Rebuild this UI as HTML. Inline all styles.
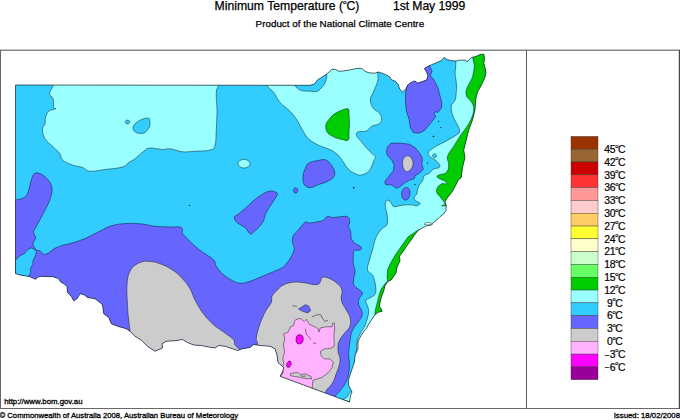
<!DOCTYPE html>
<html><head><meta charset="utf-8"><title>Minimum Temperature</title>
<style>
html,body{margin:0;padding:0;background:#fff;}
body{width:680px;height:420px;position:relative;overflow:hidden;font-family:"Liberation Sans",sans-serif;color:#000;}
.t{position:absolute;white-space:nowrap;}
.lb{position:absolute;left:594.2px;width:41px;text-align:center;font-size:10.4px;line-height:14px;white-space:nowrap;-webkit-text-stroke:0.2px #000;letter-spacing:-0.3px;}
.o{font-size:5.6px;position:relative;top:-5.4px;}
.b{-webkit-text-stroke:0.25px #000;}
.b2{-webkit-text-stroke:0.3px #000;}
</style></head><body>
<svg width="680" height="420" viewBox="0 0 680 420" style="position:absolute;left:0;top:0"><defs><clipPath id="c"><path d="M15.5,85 L310,85.3 L314.4,84.1 L317.4,80.1 L321.8,77.2 L326.2,74.3 L329.1,72 L332,69.1 L335.7,69.4 L338.7,71.3 L343.8,70.9 L349.7,69.9 L357,68.4 L361.5,68.4 L365.1,71.3 L368.8,72.8 L374.7,73.2 L378.4,72 L382,73.2 L386.5,75 L390.1,77.2 L390.9,79.4 L396,81.6 L398.2,84.6 L399.7,89 L402.6,91.9 L405.9,89 L407.4,85.3 L411,82.4 L414.7,80.9 L417.6,83.1 L422.1,81.6 L426.5,80.1 L427.9,75.7 L426.5,72.1 L424.3,68.4 L427.9,66.2 L431.6,64.7 L436.8,62.5 L441.2,60.6 L444.1,57.4 L447.1,59.6 L451.5,60.6 L455.9,61 L460.3,60 L464.7,60.3 L467.6,61.5 L469.9,58.8 L472,57.4 L476.5,56.2 L480.1,54.4 L483.8,54.1 L484.6,58.8 L483.8,63.2 L485,67.6 L486,72.1 L485,77.2 L483.1,81.6 L480.9,86 L477.9,91.2 L476.5,95.6 L475.7,100 L475,110 L472.5,120 L468.75,130 L466.25,140 L463.75,150 L465,157.5 L462.5,167.5 L461.25,177.5 L458.3,180 L455,186.7 L451.7,192.5 L447.5,197.5 L445,201.7 L446.3,205.8 L445.8,210.8 L443.3,214.2 L440,216.7 L436.7,220 L433.3,222.5 L431.7,225 L426.7,225.8 L421.7,228.3 L418.6,230 L415.8,233.3 L413.8,236 L410.8,240.5 L407.9,244.3 L403.1,251.4 L399.5,256.2 L400,261 L397.1,266.9 L396,272.9 L391.2,280 L387.9,281.5 L385,285.7 L383.6,291.4 L381.4,297.1 L380,302.9 L379.3,306.4 L381.4,309.3 L382.1,311.4 L378.6,312.1 L376.4,313.6 L374.3,315.7 L371.4,320 L368.6,324.3 L366.4,328.6 L364.8,330 L361,335.7 L358,341.4 L358,349 L355.2,354.8 L354.3,362.4 L352.4,368 L350.5,373.8 L348.6,379.5 L348.6,385.2 L350.5,389 L352,392 L350.5,395.7 L349.5,402 L280,376.25 L282.5,372 L283.75,367.5 L278,362.5 L277,355 L275,348.75 L270,346.25 L260,345.5 L253.75,344.5 L250,347.5 L242.5,348.75 L237.5,350.5 L232.5,348.75 L225,346.25 L218.75,345.5 L215,348 L208.75,347 L201.25,345.5 L193.75,345 L187.5,342.5 L182.5,339.5 L175,340.75 L166.25,341.25 L162,343.75 L162.5,348 L158.75,349.5 L155,351.25 L147.5,346.25 L141.25,340 L135,336.25 L130,331.25 L126.25,328.75 L117.5,326.25 L111.25,323.75 L108.75,317.5 L103.75,313.75 L102.5,305 L100,302.5 L95,298.75 L87.5,297.5 L83.75,294.5 L80,293.75 L77,298.75 L73.75,300.75 L71.25,296.25 L67.5,292.5 L67,286.25 L63.6,283.6 L60.7,282.1 L58.6,278.6 L52.9,276.7 L40.7,276.4 L37.9,277.1 L35.7,279.3 L32.9,278.1 L29.3,276.4 L24.3,275.7 L20,275 L15.5,273.6Z"/></clipPath></defs><path d="M15.5,85 L310,85.3 L314.4,84.1 L317.4,80.1 L321.8,77.2 L326.2,74.3 L329.1,72 L332,69.1 L335.7,69.4 L338.7,71.3 L343.8,70.9 L349.7,69.9 L357,68.4 L361.5,68.4 L365.1,71.3 L368.8,72.8 L374.7,73.2 L378.4,72 L382,73.2 L386.5,75 L390.1,77.2 L390.9,79.4 L396,81.6 L398.2,84.6 L399.7,89 L402.6,91.9 L405.9,89 L407.4,85.3 L411,82.4 L414.7,80.9 L417.6,83.1 L422.1,81.6 L426.5,80.1 L427.9,75.7 L426.5,72.1 L424.3,68.4 L427.9,66.2 L431.6,64.7 L436.8,62.5 L441.2,60.6 L444.1,57.4 L447.1,59.6 L451.5,60.6 L455.9,61 L460.3,60 L464.7,60.3 L467.6,61.5 L469.9,58.8 L472,57.4 L476.5,56.2 L480.1,54.4 L483.8,54.1 L484.6,58.8 L483.8,63.2 L485,67.6 L486,72.1 L485,77.2 L483.1,81.6 L480.9,86 L477.9,91.2 L476.5,95.6 L475.7,100 L475,110 L472.5,120 L468.75,130 L466.25,140 L463.75,150 L465,157.5 L462.5,167.5 L461.25,177.5 L458.3,180 L455,186.7 L451.7,192.5 L447.5,197.5 L445,201.7 L446.3,205.8 L445.8,210.8 L443.3,214.2 L440,216.7 L436.7,220 L433.3,222.5 L431.7,225 L426.7,225.8 L421.7,228.3 L418.6,230 L415.8,233.3 L413.8,236 L410.8,240.5 L407.9,244.3 L403.1,251.4 L399.5,256.2 L400,261 L397.1,266.9 L396,272.9 L391.2,280 L387.9,281.5 L385,285.7 L383.6,291.4 L381.4,297.1 L380,302.9 L379.3,306.4 L381.4,309.3 L382.1,311.4 L378.6,312.1 L376.4,313.6 L374.3,315.7 L371.4,320 L368.6,324.3 L366.4,328.6 L364.8,330 L361,335.7 L358,341.4 L358,349 L355.2,354.8 L354.3,362.4 L352.4,368 L350.5,373.8 L348.6,379.5 L348.6,385.2 L350.5,389 L352,392 L350.5,395.7 L349.5,402 L280,376.25 L282.5,372 L283.75,367.5 L278,362.5 L277,355 L275,348.75 L270,346.25 L260,345.5 L253.75,344.5 L250,347.5 L242.5,348.75 L237.5,350.5 L232.5,348.75 L225,346.25 L218.75,345.5 L215,348 L208.75,347 L201.25,345.5 L193.75,345 L187.5,342.5 L182.5,339.5 L175,340.75 L166.25,341.25 L162,343.75 L162.5,348 L158.75,349.5 L155,351.25 L147.5,346.25 L141.25,340 L135,336.25 L130,331.25 L126.25,328.75 L117.5,326.25 L111.25,323.75 L108.75,317.5 L103.75,313.75 L102.5,305 L100,302.5 L95,298.75 L87.5,297.5 L83.75,294.5 L80,293.75 L77,298.75 L73.75,300.75 L71.25,296.25 L67.5,292.5 L67,286.25 L63.6,283.6 L60.7,282.1 L58.6,278.6 L52.9,276.7 L40.7,276.4 L37.9,277.1 L35.7,279.3 L32.9,278.1 L29.3,276.4 L24.3,275.7 L20,275 L15.5,273.6Z" fill="#33ccff"/><g clip-path="url(#c)" stroke="#000" stroke-opacity="0.8" stroke-width="0.55" stroke-linejoin="round"><path d="M53.2,80 C20.09,81.00 53.94,82.25 53.2,85 C52.46,87.75 49.54,91.00 49.5,93.75 C49.46,96.50 52.15,96.00 53,98.75 C53.85,101.50 53.25,105.50 53.75,107.5 C54.25,109.50 56.50,108.00 55.5,108.75 C54.50,109.50 50.75,109.50 48.75,111.25 C46.75,113.00 46.25,115.00 45.5,117.5 C44.75,120.00 45.60,121.50 45,123.75 C44.40,126.00 42.50,125.75 42.5,128.75 C42.50,131.75 42.75,135.00 45,138.75 C47.25,142.50 50.75,144.50 53.75,147.5 C56.75,150.50 58.25,151.25 60,153.75 C61.75,156.25 60.00,157.75 62.5,160 C65.00,162.25 68.50,163.50 72.5,165 C76.50,166.50 79.00,166.25 82.5,167.5 C86.00,168.75 85.50,170.85 90,171.25 C94.50,171.65 98.50,170.35 105,169.5 C111.50,168.65 117.75,168.40 122.5,167 C127.25,165.60 126.25,164.15 128.75,162.5 C131.25,160.85 132.00,161.00 135,158.75 C138.00,156.50 140.75,153.40 143.75,151.25 C146.75,149.10 146.25,148.35 150,148 C153.75,147.65 158.50,149.35 162.5,149.5 C166.50,149.65 166.00,148.30 170,148.75 C174.00,149.20 177.50,151.25 182.5,151.75 C187.50,152.25 189.50,151.60 195,151.25 C200.50,150.90 206.00,151.15 210,150 C214.00,148.85 213.75,149.50 215,145.5 C216.25,141.50 215.85,137.10 216.25,130 C216.65,122.90 217.00,117.50 217,110 C217.00,102.50 215.90,97.50 216.25,92.5 C216.60,87.50 218.25,87.50 218.75,85 C219.25,82.50 251.86,81.00 218.75,80 C185.64,79.00 86.31,79.00 53.2,80Z" fill="#99ffff"/><path d="M133.2,126.8 C133.56,125.52 134.18,124.82 135.4,123.6 C136.62,122.38 137.52,121.70 139.3,120.7 C141.08,119.70 142.44,119.10 144.3,118.6 C146.16,118.10 147.50,117.78 148.6,118.2 C149.70,118.62 149.56,119.20 149.8,120.7 C150.04,122.20 150.18,123.98 149.8,125.7 C149.42,127.42 149.00,127.86 147.9,129.3 C146.80,130.74 146.02,132.08 144.3,132.9 C142.58,133.72 141.08,133.56 139.3,133.4 C137.52,133.24 136.54,132.78 135.4,132.1 C134.26,131.42 134.04,131.06 133.6,130 C133.16,128.94 132.84,128.08 133.2,126.8Z" fill="#33ccff"/><path d="M125.4,122 C125.48,121.48 125.72,120.98 126.2,120.6 C126.68,120.22 127.18,120.06 127.8,120.1 C128.42,120.14 128.92,120.36 129.3,120.8 C129.68,121.24 129.84,121.72 129.7,122.3 C129.56,122.88 129.14,123.38 128.6,123.7 C128.06,124.02 127.56,124.00 127,123.9 C126.44,123.80 126.12,123.58 125.8,123.2 C125.48,122.82 125.32,122.52 125.4,122Z" fill="#33ccff"/><path d="M238,163.5 C237.90,162.20 238.80,161.30 240,160.5 C241.20,159.70 242.40,159.50 244,159.5 C245.60,159.50 246.80,159.70 248,160.5 C249.20,161.30 249.90,162.30 250,163.5 C250.10,164.70 249.60,165.60 248.5,166.5 C247.40,167.40 246.10,167.90 244.5,168 C242.90,168.10 241.80,167.90 240.5,167 C239.20,166.10 238.10,164.80 238,163.5Z" fill="#99ffff"/><path d="M266.25,80 C266.25,85.00 264.75,82.50 266.25,85 C267.75,87.50 271.00,89.00 273.75,92.5 C276.50,96.00 276.75,98.75 280,102.5 C283.25,106.25 286.60,107.71 290,111.25 C293.40,114.79 294.40,116.25 297,120.2 C299.60,124.15 300.60,127.18 303,131 C305.40,134.82 305.88,136.46 309,139.3 C312.12,142.14 314.80,143.30 318.6,145.2 C322.40,147.10 324.44,147.12 328,148.8 C331.56,150.48 333.52,151.22 336.4,153.6 C339.28,155.98 340.02,157.62 342.4,160.7 C344.78,163.78 345.68,166.38 348.3,169 C350.92,171.62 352.88,172.60 355.5,173.8 C358.12,175.00 358.78,175.48 361.4,175 C364.02,174.52 366.48,173.30 368.6,171.4 C370.72,169.50 370.96,167.64 372,165.5 C373.04,163.36 373.06,162.40 373.8,160.7 C374.54,159.00 376.06,158.42 375.7,157 C375.34,155.58 373.90,155.48 372,153.6 C370.10,151.72 368.32,149.98 366.2,147.6 C364.08,145.22 363.30,144.08 361.4,141.7 C359.50,139.32 357.40,137.64 356.7,135.7 C356.00,133.76 356.00,132.94 357.9,132 C359.80,131.06 363.38,132.16 366.2,131 C369.02,129.84 369.38,127.64 372,126.2 C374.62,124.76 377.36,125.24 379.3,123.8 C381.24,122.36 381.70,121.16 381.7,119 C381.70,116.84 380.98,115.14 379.3,113 C377.62,110.86 375.10,110.90 373.3,108.3 C371.50,105.70 370.32,103.14 370.3,100 C370.28,96.86 372.02,95.54 373.2,92.6 C374.38,89.66 375.24,87.94 376.2,85.3 C377.16,82.66 377.72,82.06 378,79.4 C378.28,76.74 377.68,75.88 377.6,72 C377.52,68.12 399.87,62.40 377.6,60 C355.33,57.60 288.52,56.00 266.25,60 C243.98,64.00 266.25,75.00 266.25,80Z" fill="#99ffff"/><path d="M295,80 C295.00,83.10 294.00,83.50 295,85.5 C296.00,87.50 298.00,88.90 300,90 C302.00,91.10 303.00,90.76 305,91 C307.00,91.24 307.82,91.08 310,91.2 C312.18,91.32 313.84,92.04 315.9,91.6 C317.96,91.16 318.68,90.40 320.3,89 C321.92,87.60 322.82,86.52 324,84.6 C325.18,82.68 325.76,81.52 326.2,79.4 C326.64,77.28 327.44,75.88 326.2,74 C324.96,72.12 326.24,70.80 320,70 C313.76,69.20 300.00,68.00 295,70 C290.00,72.00 295.00,76.90 295,80Z" fill="#33ccff"/><path d="M455.9,55 C447.08,56.20 455.96,58.48 455.9,61 C455.84,63.52 455.76,65.10 455.6,67.6 C455.44,70.10 455.04,71.14 455.1,73.5 C455.16,75.86 455.60,76.74 455.9,79.4 C456.20,82.06 456.54,84.16 456.6,86.8 C456.66,89.44 456.50,89.96 456.2,92.6 C455.90,95.24 456.09,97.27 455.1,100 C454.11,102.73 451.67,103.00 451.25,106.25 C450.83,109.50 451.75,112.50 453,116.25 C454.25,120.00 456.20,122.00 457.5,125 C458.80,128.00 459.75,129.25 459.5,131.25 C459.25,133.25 459.15,132.91 456.25,135 C453.35,137.09 448.59,139.70 445,141.7 C441.41,143.70 440.96,143.50 438.3,145 C435.64,146.50 433.70,147.70 431.7,149.2 C429.70,150.70 428.64,151.00 428.3,152.5 C427.96,154.00 428.66,155.20 430,156.7 C431.34,158.20 433.16,158.50 435,160 C436.84,161.50 438.36,162.70 439.2,164.2 C440.04,165.70 440.38,166.50 439.2,167.5 C438.02,168.50 435.30,168.04 433.3,169.2 C431.30,170.36 431.02,171.98 429.2,173.3 C427.38,174.62 425.54,174.30 424.2,175.8 C422.86,177.30 423.50,178.96 422.5,180.8 C421.50,182.64 420.20,183.16 419.2,185 C418.20,186.84 418.00,188.16 417.5,190 C417.00,191.84 417.36,192.70 416.7,194.2 C416.04,195.70 414.38,196.18 414.2,197.5 C414.02,198.82 414.64,199.64 415.8,200.8 C416.96,201.96 419.82,202.30 420,203.3 C420.18,204.30 418.20,205.46 416.7,205.8 C415.20,206.14 415.18,205.16 412.5,205 C409.82,204.84 406.80,204.66 403.3,205 C399.80,205.34 397.14,206.58 395,206.7 C392.86,206.82 393.36,206.38 392.6,205.6 C391.84,204.82 392.00,203.84 391.2,202.8 C390.40,201.76 389.60,200.80 388.6,200.4 C387.60,200.00 386.86,200.24 386.2,200.8 C385.54,201.36 385.46,202.06 385.3,203.2 C385.14,204.34 385.28,205.24 385.4,206.5 C385.52,207.76 385.64,208.14 385.9,209.5 C386.16,210.86 386.38,211.20 386.7,213.3 C387.02,215.40 387.50,217.66 387.5,220 C387.50,222.34 387.70,223.34 386.7,225 C385.70,226.66 384.18,226.64 382.5,228.3 C380.82,229.96 379.80,230.96 378.3,233.3 C376.80,235.64 376.00,237.32 375,240 C374.00,242.68 373.80,244.70 373.3,246.7 C372.80,248.70 373.26,247.34 372.5,250 C371.74,252.66 370.50,256.00 369.5,260 C368.50,264.00 366.90,267.00 367.5,270 C368.10,273.00 371.14,273.00 372.5,275 C373.86,277.00 373.66,277.58 374.3,280 C374.94,282.42 375.56,284.24 375.7,287.1 C375.84,289.96 376.42,292.00 375,294.3 C373.58,296.60 370.46,297.32 368.6,298.6 C366.74,299.88 365.84,299.00 365.7,300.7 C365.56,302.40 367.32,304.66 367.9,307.1 C368.48,309.54 368.90,310.04 368.6,312.9 C368.30,315.76 367.26,318.56 366.4,321.4 C365.54,324.24 365.30,325.10 364.3,327.1 C363.30,329.10 362.40,329.68 361.4,331.4 C360.40,333.12 360.08,333.98 359.3,335.7 C358.52,337.42 358.11,336.64 357.5,340 C356.89,343.36 356.85,347.50 356.25,352.5 C355.65,357.50 355.05,359.50 354.5,365 C353.95,370.50 354.00,375.00 353.5,380 C353.00,385.00 353.10,386.80 352,390 C350.90,393.20 349.20,392.00 348,396 C346.80,400.00 315.60,407.20 346,410 C376.40,412.80 469.20,481.00 500,410 C530.80,339.00 508.82,126.00 500,55 C491.18,-16.00 464.72,53.80 455.9,55Z" fill="#99ffff"/><path d="M432.5,155.75 C432.50,154.93 433.68,153.70 434.5,153.7 C435.32,153.70 436.60,154.93 436.6,155.75 C436.60,156.57 435.32,157.80 434.5,157.8 C433.68,157.80 432.50,156.57 432.5,155.75Z" fill="#33ccff"/><path d="M472.8,50 C467.36,51.48 472.66,55.04 472.8,57.4 C472.94,59.76 473.20,60.04 473.5,61.8 C473.80,63.56 474.30,64.14 474.3,66.2 C474.30,68.26 473.94,69.76 473.5,72.1 C473.06,74.44 472.98,75.56 472.1,77.9 C471.22,80.24 470.14,81.74 469.1,83.8 C468.06,85.86 467.54,86.44 466.9,88.2 C466.26,89.96 465.90,90.84 465.9,92.6 C465.90,94.36 466.33,95.77 466.9,97 C467.47,98.23 467.63,97.40 468.75,98.75 C469.87,100.10 471.50,101.50 472.5,103.75 C473.50,106.00 474.00,107.00 473.75,110 C473.50,113.00 472.75,115.25 471.25,118.75 C469.75,122.25 468.50,124.00 466.25,127.5 C464.00,131.00 462.50,132.50 460,136.25 C457.50,140.00 456.25,142.25 453.75,146.25 C451.25,150.25 448.50,152.50 447.5,156.25 C446.50,160.00 449.00,161.75 448.75,165 C448.50,168.25 448.25,170.50 446.25,172.5 C444.25,174.50 440.50,174.00 438.75,175 C437.00,176.00 436.25,176.25 437.5,177.5 C438.75,178.75 443.25,180.00 445,181.25 C446.75,182.50 446.91,183.24 446.25,183.75 C445.59,184.26 443.45,183.05 441.7,183.8 C439.95,184.55 438.50,185.76 437.5,187.5 C436.50,189.24 436.20,190.66 436.7,192.5 C437.20,194.34 438.68,195.04 440,196.7 C441.32,198.36 442.24,199.30 443.3,200.8 C444.36,202.30 444.66,203.16 445.3,204.2 C445.94,205.24 435.56,205.64 446.5,206 C457.44,206.36 489.30,237.20 500,206 C510.70,174.80 505.44,81.20 500,50 C494.56,18.80 478.24,48.52 472.8,50Z" fill="#00cc00"/><path d="M420,229.3 L416.2,231.2 L407.9,237.1 L401.9,245.5 L396,253.8 L391.2,262.1 L387.6,269.3 L387.1,276.4 L387.6,281.2 L385.7,282.9 L381.4,288.6 L379.3,294.3 L377.9,300 L376.4,305.7 L375,311.4 L375,315 L400,315 L425,232Z" fill="#00cc00"/><path d="M424,224.2 L425.5,222.9 L428.5,222.5 L431.3,223 L430.5,224.4 L427.5,225Z" fill="#ffffff"/><path d="M348.3,109 C347.10,107.96 345.14,109.20 343,109.8 C340.86,110.40 339.60,110.96 337.6,112 C335.60,113.04 334.66,113.60 333,115 C331.34,116.40 330.60,117.40 329.3,119 C328.00,120.60 327.22,121.56 326.5,123 C325.78,124.44 325.74,124.80 325.7,126.2 C325.66,127.60 325.84,128.58 326.3,130 C326.76,131.42 326.86,132.10 328,133.3 C329.14,134.50 330.32,135.06 332,136 C333.68,136.94 334.40,137.30 336.4,138 C338.40,138.70 339.62,139.10 342,139.5 C344.38,139.90 346.90,141.50 348.3,140 C349.70,138.50 348.76,135.24 349,132 C349.24,128.76 349.50,127.20 349.5,123.8 C349.50,120.40 349.24,117.96 349,115 C348.76,112.04 349.50,110.04 348.3,109Z" fill="#00cc00"/><path d="M423,64 L429.3,65 L432.1,71.4 L430.2,75.2 L434,80 L437.9,87.6 L439.8,95.2 L441.7,101.9 L441.7,107.6 L437.9,112.4 L435,111.8 L434,114.3 L436,116.2 L433.1,120 L429.3,124.8 L424.5,130.5 L418.8,133.3 L413.1,132.4 L410.2,127.6 L409.3,120 L406.4,111.4 L405.5,101.9 L405.5,92.4 L407,86 L407,78 L420,76Z" fill="#6666ff"/><path d="M387.5,146.7 L390.8,143.3 L400,143 L409.2,144.2 L415,147.5 L419.2,152.5 L422.5,158.3 L421.7,164.2 L423.3,169.2 L419.2,173.3 L415,175.8 L414.2,178.7 L408.3,180.8 L404.2,183.3 L400,186.7 L396.7,188.3 L391.7,185 L385.8,184.7 L384.7,181.7 L389.2,175.8 L393.3,170.8 L394.2,165 L391.7,160 L387.5,155.8 L386.3,151.7Z" fill="#6666ff"/><path d="M407.5,155.8 C408.54,155.90 409.48,156.06 410.5,157 C411.52,157.94 412.10,159.00 412.6,160.5 C413.10,162.00 413.16,163.00 413,164.5 C412.84,166.00 412.50,166.80 411.8,168 C411.10,169.20 410.46,169.76 409.5,170.5 C408.54,171.24 407.94,171.70 407,171.7 C406.06,171.70 405.60,171.44 404.8,170.5 C404.00,169.56 403.46,168.60 403,167 C402.54,165.40 402.40,164.20 402.5,162.5 C402.60,160.80 402.94,159.70 403.5,158.5 C404.06,157.30 404.50,157.04 405.3,156.5 C406.10,155.96 406.46,155.70 407.5,155.8Z" fill="#cccccc"/><path d="M401.7,193 C401.90,191.30 402.34,190.10 403.3,189 C404.26,187.90 405.30,187.40 406.5,187.5 C407.70,187.60 408.60,188.20 409.3,189.5 C410.00,190.80 410.20,192.20 410,194 C409.80,195.80 409.30,197.30 408.3,198.5 C407.30,199.70 406.20,200.20 405,200 C403.80,199.80 402.96,198.90 402.3,197.5 C401.64,196.10 401.50,194.70 401.7,193Z" fill="#6666ff"/><path d="M309,163 C311.50,161.52 314.66,161.10 318,160.5 C321.34,159.90 322.96,159.00 325.7,160 C328.44,161.00 329.88,162.98 331.7,165.5 C333.52,168.02 334.44,170.30 334.8,172.6 C335.16,174.90 334.36,175.56 333.5,177 C332.64,178.44 332.20,178.70 330.5,179.8 C328.80,180.90 327.38,181.56 325,182.5 C322.62,183.44 321.56,183.48 318.6,184.5 C315.64,185.52 313.06,187.60 310.2,187.6 C307.34,187.60 305.74,186.78 304.3,184.5 C302.86,182.22 302.76,179.52 303,176.2 C303.24,172.88 304.30,170.54 305.5,167.9 C306.70,165.26 306.50,164.48 309,163Z" fill="#6666ff"/><path d="M293.5,190 C293.66,188.96 294.64,187.90 295.5,187.8 C296.36,187.70 297.50,188.56 297.8,189.5 C298.10,190.44 297.62,191.80 297,192.5 C296.38,193.20 295.40,193.50 294.7,193 C294.00,192.50 293.34,191.04 293.5,190Z" fill="#6666ff"/><path d="M276.25,192.5 C274.60,191.75 272.50,190.25 268.75,191.25 C265.00,192.25 261.75,194.50 257.5,197.5 C253.25,200.50 251.25,203.00 247.5,206.25 C243.75,209.50 241.35,211.60 238.75,213.75 C236.15,215.90 234.85,215.25 234.5,217 C234.15,218.75 234.90,220.40 237,222.5 C239.10,224.60 242.40,225.25 245,227.5 C247.60,229.75 248.25,232.85 250,233.75 C251.75,234.65 251.25,234.25 253.75,232 C256.25,229.75 260.00,226.40 262.5,222.5 C265.00,218.60 264.25,216.50 266.25,212.5 C268.25,208.50 270.35,206.00 272.5,202.5 C274.65,199.00 276.25,197.00 277,195 C277.75,193.00 277.90,193.25 276.25,192.5Z" fill="#6666ff"/><path d="M10,200 C11.10,158.00 12.50,200.60 15.5,200 C18.50,199.40 22.35,199.00 25,197 C27.65,195.00 27.50,193.40 28.75,190 C30.00,186.60 30.00,183.35 31.25,180 C32.50,176.65 32.75,174.25 35,173.25 C37.25,172.25 39.50,173.15 42.5,175 C45.50,176.85 48.10,179.25 50,182.5 C51.90,185.75 52.25,187.25 52,191.25 C51.75,195.25 50.40,198.25 48.75,202.5 C47.10,206.75 46.08,208.00 43.75,212.5 C41.42,217.00 39.13,221.08 37.1,225 C35.07,228.92 33.88,229.52 33.6,232.1 C33.32,234.68 35.84,235.60 35.7,237.9 C35.56,240.20 32.76,241.18 32.9,243.6 C33.04,246.02 34.98,248.58 36.4,250 C37.82,251.42 38.56,249.84 40,250.7 C41.44,251.56 41.88,253.86 43.6,254.3 C45.32,254.74 46.46,254.04 48.6,252.9 C50.74,251.76 51.74,250.04 54.3,248.6 C56.86,247.16 58.26,246.70 61.4,245.7 C64.54,244.70 65.28,245.04 70,243.6 C74.72,242.16 79.00,241.02 85,238.5 C91.00,235.98 95.00,233.45 100,231 C105.00,228.55 105.50,227.70 110,226.25 C114.50,224.80 116.50,224.25 122.5,223.75 C128.50,223.25 133.50,223.25 140,223.75 C146.50,224.25 149.00,225.60 155,226.25 C161.00,226.90 164.75,226.75 170,227 C175.25,227.25 178.75,226.15 181.25,227.5 C183.75,228.85 181.50,231.75 182.5,233.75 C183.50,235.75 183.75,235.00 186.25,237.5 C188.75,240.00 191.25,243.00 195,246.25 C198.75,249.50 201.25,251.00 205,253.75 C208.75,256.50 211.50,257.50 213.75,260 C216.00,262.50 214.50,263.50 216.25,266.25 C218.00,269.00 219.50,271.00 222.5,273.75 C225.50,276.50 227.75,278.10 231.25,280 C234.75,281.90 236.25,283.00 240,283.25 C243.75,283.50 245.50,282.65 250,281.25 C254.50,279.85 257.50,278.30 262.5,276.25 C267.50,274.20 271.00,272.75 275,271 C279.00,269.25 280.16,269.04 282.5,267.5 C284.84,265.96 284.86,265.64 286.7,263.3 C288.54,260.96 290.20,258.80 291.7,255.8 C293.20,252.80 294.04,250.96 294.2,248.3 C294.36,245.64 292.68,245.00 292.5,242.5 C292.32,240.00 292.14,238.30 293.3,235.8 C294.46,233.30 295.96,232.66 298.3,230 C300.64,227.34 302.66,223.90 305,222.5 C307.34,221.10 307.34,223.16 310,223 C312.66,222.84 315.56,222.30 318.3,221.7 C321.04,221.10 321.86,221.08 323.7,220 C325.54,218.92 325.58,216.80 327.5,216.3 C329.42,215.80 329.96,217.50 333.3,217.5 C336.64,217.50 341.20,216.30 344.2,216.3 C347.20,216.30 347.20,216.42 348.3,217.5 C349.40,218.58 349.62,219.86 349.7,221.7 C349.78,223.54 348.48,224.70 348.7,226.7 C348.92,228.70 350.28,229.38 350.8,231.7 C351.32,234.02 350.46,235.98 351.3,238.3 C352.14,240.62 353.10,241.62 355,243.3 C356.90,244.98 359.74,245.36 360.8,246.7 C361.86,248.04 361.62,249.18 360.3,250 C358.98,250.82 355.60,249.46 354.2,250.8 C352.80,252.14 353.48,254.20 353.3,256.7 C353.12,259.20 352.96,260.30 353.3,263.3 C353.64,266.30 354.96,268.36 355,271.7 C355.04,275.04 353.64,277.20 353.5,280 C353.36,282.80 352.72,283.42 354.3,285.7 C355.88,287.98 359.84,289.68 361.4,291.4 C362.96,293.12 362.52,292.86 362.1,294.3 C361.68,295.74 360.00,296.60 359.3,298.6 C358.60,300.60 358.18,302.02 358.6,304.3 C359.02,306.58 360.70,307.72 361.4,310 C362.10,312.28 362.66,313.42 362.1,315.7 C361.54,317.98 360.16,319.12 358.6,321.4 C357.04,323.68 355.74,324.80 354.3,327.1 C352.86,329.40 352.16,330.80 351.4,332.9 C350.64,335.00 350.88,335.14 350.5,337.6 C350.12,340.06 349.88,341.76 349.5,345.2 C349.12,348.64 348.60,350.98 348.6,354.8 C348.60,358.62 349.50,360.50 349.5,364.3 C349.50,368.10 349.16,370.56 348.6,373.8 C348.04,377.04 347.84,377.86 346.7,380.5 C345.56,383.14 344.44,384.70 342.9,387 C341.36,389.30 340.54,390.06 339,392 C337.46,393.94 337.00,393.10 335.2,396.7 C333.40,400.30 395.04,407.34 330,410 C264.96,412.66 74.00,452.00 10,410 C-54.00,368.00 8.90,242.00 10,200Z" fill="#6666ff"/><path d="M10,260 L15.7,260 L20,255.7 L24.3,253.6 L27.9,249.3 L31.4,247.9 L35,250 L36.4,251.4 L35.7,255 L32.9,260.7 L32.9,264.3 L30.7,267.9 L30.7,272.1 L29.3,275.7 L29.3,285 L10,285Z" fill="#33ccff"/><path d="M132,345 C130.00,339.00 130.70,335.40 130,330 C129.30,324.60 129.00,323.00 128.5,318 C128.00,313.00 127.80,311.60 127.5,305 C127.20,298.40 126.50,291.75 127,285 C127.50,278.25 127.90,275.50 130,271.25 C132.10,267.00 134.00,265.75 137.5,263.75 C141.00,261.75 143.00,261.25 147.5,261.25 C152.00,261.25 155.00,262.00 160,263.75 C165.00,265.50 168.00,267.00 172.5,270 C177.00,273.00 179.00,275.00 182.5,278.75 C186.00,282.50 187.50,284.50 190,288.75 C192.50,293.00 192.50,295.25 195,300 C197.50,304.75 199.00,307.75 202.5,312.5 C206.00,317.25 208.50,320.00 212.5,323.75 C216.50,327.50 218.50,328.25 222.5,331.25 C226.50,334.25 230.10,336.25 232.5,338.75 C234.90,341.25 234.00,339.50 234.5,343.75 C235.00,348.00 253.90,356.75 235,360 C216.10,363.25 160.60,363.00 140,360 C119.40,357.00 134.00,351.00 132,345Z" fill="#cccccc"/><path d="M257.5,360 C257.50,346.75 257.75,348.00 257.5,343.75 C257.25,339.50 256.00,342.00 256.25,338.75 C256.50,335.50 257.50,331.75 258.75,327.5 C260.00,323.25 261.00,321.00 262.5,317.5 C264.00,314.00 264.50,313.00 266.25,310 C268.00,307.00 270.10,305.25 271.25,302.5 C272.40,299.75 271.00,298.50 272,296.25 C273.00,294.00 274.15,293.40 276.25,291.25 C278.35,289.10 279.50,287.25 282.5,285.5 C285.50,283.75 287.25,283.10 291.25,282.5 C295.25,281.90 297.25,282.10 302.5,282.5 C307.75,282.90 313.50,285.50 317.5,284.5 C321.50,283.50 320.00,278.65 322.5,277.5 C325.00,276.35 327.00,277.50 330,278.75 C333.00,280.00 335.10,281.50 337.5,283.75 C339.90,286.00 341.25,286.75 342,290 C342.75,293.25 340.40,296.00 341.25,300 C342.10,304.00 344.50,306.50 346.25,310 C348.00,313.50 349.25,314.25 350,317.5 C350.75,320.75 351.04,323.17 350,326.25 C348.96,329.33 347.00,329.87 344.8,332.9 C342.60,335.93 340.36,337.78 339,341.4 C337.64,345.02 337.80,347.56 338,351 C338.20,354.44 339.80,355.56 340,358.6 C340.20,361.64 339.76,363.16 339,366.2 C338.24,369.24 337.34,370.76 336.2,373.8 C335.06,376.84 334.64,378.76 333.3,381.4 C331.96,384.04 331.02,384.88 329.5,387 C327.98,389.12 327.60,387.40 325.7,392 C323.80,396.60 333.64,406.40 320,410 C306.36,413.60 270.00,420.00 257.5,410 C245.00,400.00 257.50,373.25 257.5,360Z" fill="#cccccc"/><path d="M298.5,309 L305.4,304.7 L308.6,306 L310.7,310.7 L307.5,312.9 L302.1,311.1Z" fill="#6666ff"/><path d="M295.7,319.7 L300,318.2 L304.3,321.4 L306.4,319.3 L309.6,324.6 L315,326.8 L318.2,328.9 L318.9,332.1 L320.4,327.9 L325.7,326.8 L332.1,326.8 L332.6,323.1 L334.3,323.1 L334.7,327.9 L333.9,336.4 L334.3,346.1 L331.1,348.2 L324.6,348.9 L320.4,351.4 L321,355.7 L324.6,358.9 L330,358.9 L333.2,362.1 L332.1,367.5 L327.9,372.9 L322.5,377.1 L316.1,379.3 L312.9,380.4 L311.8,392 L300,392 L279,376 L281.8,375 L283.3,371.8 L281.8,368.1 L283.9,364.3 L282.9,358.9 L284.6,351.4 L283.3,345 L285,338.6 L283.3,334.3 L288.2,332.1 L290.4,326.8 L293.6,325.7 L294.6,321.4Z" fill="#ffb3ff"/><path d="M290.4,373.5 L297.9,372.5 L300.4,374.5 L305.4,373.9 L311,376.5 L311.8,378.8 L305,378.6 L299,377.2 L293,376.2 L290.4,375.6Z" fill="#cccccc"/><path d="M296.1,338 C296.34,336.66 296.62,335.96 297.5,335.3 C298.38,334.64 299.44,334.46 300.5,334.7 C301.56,334.94 302.26,335.44 302.8,336.5 C303.34,337.56 303.36,338.70 303.2,340 C303.04,341.30 302.94,342.22 302,343 C301.06,343.78 299.64,344.10 298.5,343.9 C297.36,343.70 296.78,343.18 296.3,342 C295.82,340.82 295.86,339.34 296.1,338Z" fill="#ff00ff"/><path d="M286.9,363.5 C287.34,362.40 288.18,361.30 289,361 C289.82,360.70 290.64,361.10 291,362 C291.36,362.90 291.24,364.40 290.8,365.5 C290.36,366.60 289.60,367.30 288.8,367.5 C288.00,367.70 287.18,367.30 286.8,366.5 C286.42,365.70 286.46,364.60 286.9,363.5Z" fill="#ff00ff"/><path d="M311.8,317.1 L316.1,315 L320.4,314.6 L322.5,318.2 L324.6,321.4 L327.9,320.4" fill="none" stroke-width="0.6"/><path d="M305.4,328.9 L306.4,334.3 L309.6,337.5 L310.7,339.6" fill="none" stroke-width="0.6"/><path d="M312.9,342.9 L316.1,343.5" fill="none" stroke-width="0.6"/><path d="M292.5,305.8 L296.8,306.4" fill="none" stroke-width="0.6"/><path d="M300.5,375.6 L303,376.4 L306,376" fill="none" stroke-width="0.6"/><circle cx="438.75" cy="121.25" r="0.6" fill="#000" stroke="none"/><circle cx="440.75" cy="127.5" r="0.6" fill="#000" stroke="none"/><circle cx="433.25" cy="136.25" r="0.6" fill="#000" stroke="none"/><circle cx="433.75" cy="136.25" r="0.6" fill="#000" stroke="none"/><circle cx="427.5" cy="163" r="0.6" fill="#000" stroke="none"/><circle cx="353.75" cy="188" r="0.6" fill="#000" stroke="none"/><circle cx="415" cy="184.5" r="0.6" fill="#000" stroke="none"/><circle cx="189.5" cy="205.5" r="0.6" fill="#000" stroke="none"/><circle cx="353.8" cy="187.6" r="0.6" fill="#000" stroke="none"/></g><path d="M15.5,85 L310,85.3 L314.4,84.1 L317.4,80.1 L321.8,77.2 L326.2,74.3 L329.1,72 L332,69.1 L335.7,69.4 L338.7,71.3 L343.8,70.9 L349.7,69.9 L357,68.4 L361.5,68.4 L365.1,71.3 L368.8,72.8 L374.7,73.2 L378.4,72 L382,73.2 L386.5,75 L390.1,77.2 L390.9,79.4 L396,81.6 L398.2,84.6 L399.7,89 L402.6,91.9 L405.9,89 L407.4,85.3 L411,82.4 L414.7,80.9 L417.6,83.1 L422.1,81.6 L426.5,80.1 L427.9,75.7 L426.5,72.1 L424.3,68.4 L427.9,66.2 L431.6,64.7 L436.8,62.5 L441.2,60.6 L444.1,57.4 L447.1,59.6 L451.5,60.6 L455.9,61 L460.3,60 L464.7,60.3 L467.6,61.5 L469.9,58.8 L472,57.4 L476.5,56.2 L480.1,54.4 L483.8,54.1 L484.6,58.8 L483.8,63.2 L485,67.6 L486,72.1 L485,77.2 L483.1,81.6 L480.9,86 L477.9,91.2 L476.5,95.6 L475.7,100 L475,110 L472.5,120 L468.75,130 L466.25,140 L463.75,150 L465,157.5 L462.5,167.5 L461.25,177.5 L458.3,180 L455,186.7 L451.7,192.5 L447.5,197.5 L445,201.7 L446.3,205.8 L445.8,210.8 L443.3,214.2 L440,216.7 L436.7,220 L433.3,222.5 L431.7,225 L426.7,225.8 L421.7,228.3 L418.6,230 L415.8,233.3 L413.8,236 L410.8,240.5 L407.9,244.3 L403.1,251.4 L399.5,256.2 L400,261 L397.1,266.9 L396,272.9 L391.2,280 L387.9,281.5 L385,285.7 L383.6,291.4 L381.4,297.1 L380,302.9 L379.3,306.4 L381.4,309.3 L382.1,311.4 L378.6,312.1 L376.4,313.6 L374.3,315.7 L371.4,320 L368.6,324.3 L366.4,328.6 L364.8,330 L361,335.7 L358,341.4 L358,349 L355.2,354.8 L354.3,362.4 L352.4,368 L350.5,373.8 L348.6,379.5 L348.6,385.2 L350.5,389 L352,392 L350.5,395.7 L349.5,402 L280,376.25 L282.5,372 L283.75,367.5 L278,362.5 L277,355 L275,348.75 L270,346.25 L260,345.5 L253.75,344.5 L250,347.5 L242.5,348.75 L237.5,350.5 L232.5,348.75 L225,346.25 L218.75,345.5 L215,348 L208.75,347 L201.25,345.5 L193.75,345 L187.5,342.5 L182.5,339.5 L175,340.75 L166.25,341.25 L162,343.75 L162.5,348 L158.75,349.5 L155,351.25 L147.5,346.25 L141.25,340 L135,336.25 L130,331.25 L126.25,328.75 L117.5,326.25 L111.25,323.75 L108.75,317.5 L103.75,313.75 L102.5,305 L100,302.5 L95,298.75 L87.5,297.5 L83.75,294.5 L80,293.75 L77,298.75 L73.75,300.75 L71.25,296.25 L67.5,292.5 L67,286.25 L63.6,283.6 L60.7,282.1 L58.6,278.6 L52.9,276.7 L40.7,276.4 L37.9,277.1 L35.7,279.3 L32.9,278.1 L29.3,276.4 L24.3,275.7 L20,275 L15.5,273.6Z" fill="none" stroke="#000" stroke-width="0.6" stroke-linejoin="round"/><path d="M0,49.5 L680,49.5" fill="none" stroke="#c4c4c4" stroke-width="1"/><path d="M0,50.5 L680,50.5" fill="none" stroke="#868686" stroke-width="1"/><path d="M0,408.5 L680,408.5" fill="none" stroke="#686868" stroke-width="1"/><path d="M0.5,50 L0.5,408.5" fill="none" stroke="#666" stroke-width="1"/><path d="M679.4,50 L679.4,408.5" fill="none" stroke="#444" stroke-width="1.2"/><path d="M526.5,50.5 L526.5,408.5" fill="none" stroke="#5a5a5a" stroke-width="1"/><rect x="571" y="136.40" width="27" height="12.81" fill="#993300" stroke="#333" stroke-width="0.4"/><rect x="571" y="149.21" width="27" height="12.81" fill="#996633" stroke="#333" stroke-width="0.4"/><rect x="571" y="162.01" width="27" height="12.81" fill="#cc0000" stroke="#333" stroke-width="0.4"/><rect x="571" y="174.82" width="27" height="12.81" fill="#ff3333" stroke="#333" stroke-width="0.4"/><rect x="571" y="187.62" width="27" height="12.81" fill="#ff9999" stroke="#333" stroke-width="0.4"/><rect x="571" y="200.43" width="27" height="12.81" fill="#ffcccc" stroke="#333" stroke-width="0.4"/><rect x="571" y="213.23" width="27" height="12.81" fill="#ffcc66" stroke="#333" stroke-width="0.4"/><rect x="571" y="226.04" width="27" height="12.81" fill="#ffff33" stroke="#333" stroke-width="0.4"/><rect x="571" y="238.84" width="27" height="12.81" fill="#ffffcc" stroke="#333" stroke-width="0.4"/><rect x="571" y="251.65" width="27" height="12.81" fill="#ccffcc" stroke="#333" stroke-width="0.4"/><rect x="571" y="264.45" width="27" height="12.81" fill="#66ff66" stroke="#333" stroke-width="0.4"/><rect x="571" y="277.26" width="27" height="12.81" fill="#00cc00" stroke="#333" stroke-width="0.4"/><rect x="571" y="290.06" width="27" height="12.81" fill="#99ffff" stroke="#333" stroke-width="0.4"/><rect x="571" y="302.87" width="27" height="12.81" fill="#33ccff" stroke="#333" stroke-width="0.4"/><rect x="571" y="315.67" width="27" height="12.81" fill="#6666ff" stroke="#333" stroke-width="0.4"/><rect x="571" y="328.48" width="27" height="12.81" fill="#cccccc" stroke="#333" stroke-width="0.4"/><rect x="571" y="341.28" width="27" height="12.81" fill="#ffb3ff" stroke="#333" stroke-width="0.4"/><rect x="571" y="354.09" width="27" height="12.81" fill="#ff00ff" stroke="#333" stroke-width="0.4"/><rect x="571" y="366.89" width="27" height="12.81" fill="#990099" stroke="#333" stroke-width="0.4"/></svg>
<div class="t b" style="left:214.6px;top:-0.8px;font-size:12.2px;line-height:14px;">Minimum Temperature (<span class="o" style="font-size:6.2px;top:-6.1px">o</span>C)</div>
<div class="t b" style="left:393px;top:-0.8px;font-size:12.2px;letter-spacing:-0.08px;line-height:14px;">1st May 1999</div>
<div class="t b" style="left:255.6px;top:18.3px;font-size:9.85px;line-height:12px;">Product of the National Climate Centre</div>
<div class="t b2" style="left:4.2px;top:397.2px;font-size:7.8px;line-height:10px;">http://www.bom.gov.au</div>
<div class="t b2" style="left:-0.5px;top:411.3px;font-size:7.7px;line-height:10px;">&copy; Commonwealth of Australia 2008, Australian Bureau of Meteorology</div>
<div class="t b2" style="right:0px;top:411.1px;font-size:7.8px;line-height:10px;">Issued: 18/02/2008</div>
<div class="lb" style="top:142.9px">45<span class="o">o</span>C</div><div class="lb" style="top:155.7px">42<span class="o">o</span>C</div><div class="lb" style="top:168.5px">39<span class="o">o</span>C</div><div class="lb" style="top:181.3px">36<span class="o">o</span>C</div><div class="lb" style="top:194.1px">33<span class="o">o</span>C</div><div class="lb" style="top:206.9px">30<span class="o">o</span>C</div><div class="lb" style="top:219.7px">27<span class="o">o</span>C</div><div class="lb" style="top:232.5px">24<span class="o">o</span>C</div><div class="lb" style="top:245.3px">21<span class="o">o</span>C</div><div class="lb" style="top:258.2px">18<span class="o">o</span>C</div><div class="lb" style="top:271.0px">15<span class="o">o</span>C</div><div class="lb" style="top:283.8px">12<span class="o">o</span>C</div><div class="lb" style="top:296.6px">9<span class="o">o</span>C</div><div class="lb" style="top:309.4px">6<span class="o">o</span>C</div><div class="lb" style="top:322.2px">3<span class="o">o</span>C</div><div class="lb" style="top:335.0px">0<span class="o">o</span>C</div><div class="lb" style="top:347.8px"><span style="font-size:8.6px;position:relative;top:-0.3px;margin-right:0.9px">−</span>3<span class="o">o</span>C</div><div class="lb" style="top:360.6px"><span style="font-size:8.6px;position:relative;top:-0.3px;margin-right:0.9px">−</span>6<span class="o">o</span>C</div>
</body></html>
